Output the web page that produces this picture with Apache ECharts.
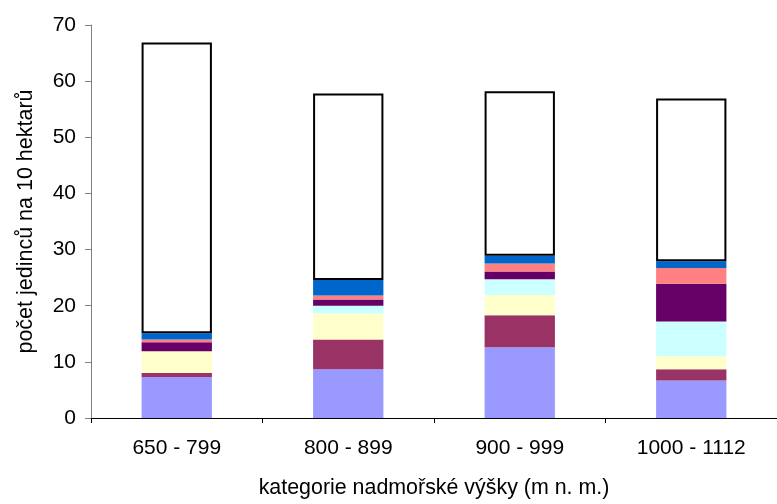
<!DOCTYPE html>
<html>
<head>
<meta charset="utf-8">
<script src="https://cdn.jsdelivr.net/npm/echarts@6/dist/echarts.min.js"></script>
<style>
html,body{margin:0;padding:0;background:#fff;}
#c{width:777px;height:504px;}
</style>
</head>
<body>
<div id="c"></div>
<script>
var categories = ['650 - 799', '800 - 899', '900 - 999', '1000 - 1112'];
var yTicks = [0, 10, 20, 30, 40, 50, 60, 70];
var s1 = [7.3, 8.7, 12.6, 6.7];
var s2 = [0.7, 5.3, 5.7, 2.0];
var s3 = [3.9, 4.6, 3.6, 2.3];
var s4 = [0, 1.4, 2.8, 6.2];
var s5 = [1.6, 1.1, 1.4, 6.7];
var s6 = [0.5, 0.7, 1.4, 2.8];
var s7 = [1.1, 2.8, 1.4, 1.2];
var s8 = [51.8, 33.2, 29.3, 29.0];

var seriesData = [s1, s2, s3, s4, s5, s6, s7, s8];
var colors = ['#9999FF', '#993366', '#FFFFCC', '#CCFFFF', '#660066', '#FF8080', '#0066CC', '#FFFFFF'];

var series = seriesData.map(function (d, i) {
  var last = i === seriesData.length - 1;
  return {
    type: 'bar',
    stack: 'total',
    data: d,
    barWidth: '41%',
    itemStyle: {
      color: colors[i],
      borderColor: last ? '#000' : colors[i],
      borderWidth: last ? 2 : 0
    },
    silent: true
  };
});

var chart = echarts.init(document.getElementById('c'), null, {renderer: 'canvas'});
chart.setOption({
  animation: false,
  backgroundColor: '#fff',
  grid: {left: 91, top: 25, width: 694, height: 394, containLabel: false},
  xAxis: {
    type: 'category',
    data: categories,
    name: 'kategorie nadmořské výšky (m n. m.)',
    nameLocation: 'middle',
    nameGap: 60,
    nameTextStyle: {fontFamily: 'Liberation Sans', fontSize: 21.4, color: '#000'},
    axisLine: {lineStyle: {color: '#000', width: 1}},
    axisTick: {show: true, inside: false, length: 5, lineStyle: {color: '#000'}},
    axisLabel: {fontFamily: 'Liberation Sans', fontSize: 21, color: '#000', margin: 20}
  },
  yAxis: {
    type: 'value',
    min: 0,
    max: 70,
    interval: 10,
    name: 'počet jedinců na 10 hektarů',
    nameLocation: 'middle',
    nameRotate: 90,
    nameGap: 54,
    nameTextStyle: {fontFamily: 'Liberation Sans', fontSize: 21.5, color: '#000'},
    axisLine: {show: true, lineStyle: {color: '#808080', width: 1}},
    axisTick: {show: true, inside: false, length: 6, lineStyle: {color: '#808080'}},
    axisLabel: {fontFamily: 'Liberation Sans', fontSize: 21, color: '#000', margin: 15,
      formatter: function (v) { return yTicks.indexOf(v) >= 0 ? String(v) : ''; }},
    splitLine: {show: false}
  },
  series: series
});
</script>
</body>
</html>
